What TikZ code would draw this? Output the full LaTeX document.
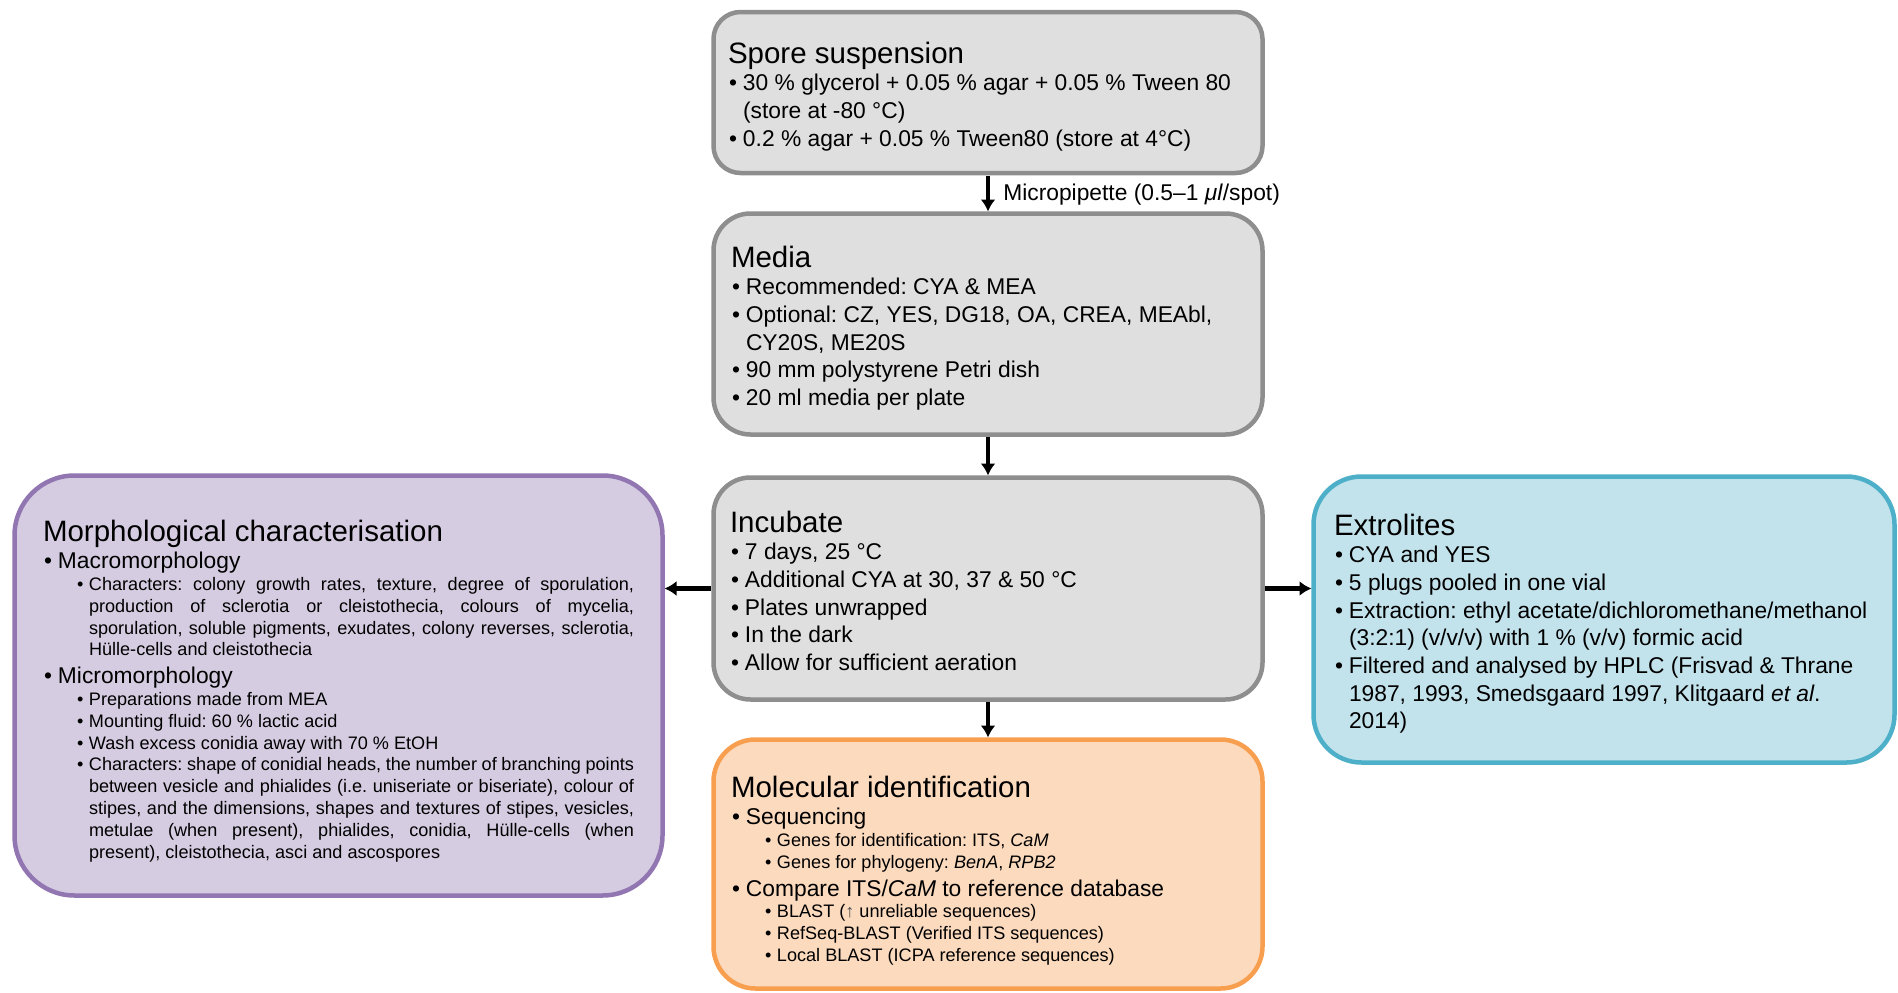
\documentclass[tikz,border=0pt]{standalone}
\usepackage{fontspec}
\setmainfont{Liberation Sans}
\usetikzlibrary{arrows.meta,calc}
\frenchspacing
\definecolor{grayfill}{HTML}{DFDFDF}
\definecolor{grayline}{HTML}{8E8E8E}
\definecolor{purplefill}{HTML}{D5CCE1}
\definecolor{purpleline}{HTML}{9276B2}
\definecolor{bluefill}{HTML}{C3E3EC}
\definecolor{blueline}{HTML}{4DB0C8}
\definecolor{orangefill}{HTML}{FCDABE}
\definecolor{orangeline}{HTML}{F89E4F}
\newcommand{\boxtitle}[1]{{\fontsize{29.5}{34}\selectfont #1\par}}
\newcommand{\itemA}[1]{{\fontsize{22.8}{27.7}\selectfont\leftskip=0pt\hangindent=15pt\hangafter=1\noindent\makebox[15pt][l]{\hspace{1pt}•}#1\par}}
\newcommand{\itemB}[1]{{\fontsize{18.1}{21.8}\selectfont\leftskip=34pt\hangindent=12pt\hangafter=1\noindent\makebox[12pt][l]{•}#1\par}}
\tikzset{
  boxbase/.style={draw, line width=4.5pt, inner sep=0pt, outer sep=0pt},
  graybox/.style={boxbase, fill=grayfill, draw=grayline},
  purplebox/.style={boxbase, fill=purplefill, draw=purpleline},
  bluebox/.style={boxbase, fill=bluefill, draw=blueline},
  orangebox/.style={boxbase, fill=orangefill, draw=orangeline},
  txt/.style={anchor=base west, inner sep=0pt, outer sep=0pt, text=black},
  arr/.style={line width=4.6pt, -{Latex[length=12pt,width=15pt]}, shorten <=2.5pt, shorten >=2pt},
  lbl/.style={anchor=west, inner sep=0pt, xshift=13pt, yshift=-1pt, font=\fontsize{22.8}{26}\selectfont}
}
\begin{document}
\begin{tikzpicture}[x=1pt,y=-1pt]
\useasboundingbox (0,0) rectangle (1898,993);
\fill[white] (0,0) rectangle (1898,993);

% boxes
\node[graybox, rounded corners=27pt, minimum width=549pt, minimum height=161pt] (spore) at (988,92.5) {};
\node[graybox, rounded corners=37pt, minimum width=549pt, minimum height=221pt] (media) at (988,324) {};
\node[graybox, rounded corners=37pt, minimum width=549pt, minimum height=222pt] (incubate) at (988,588.5) {};
\node[orangebox, rounded corners=42pt, minimum width=549pt, minimum height=249pt] (molecular) at (988,864) {};
\node[purplebox, rounded corners=60pt, minimum width=648pt, minimum height=420pt] (morph) at (338.5,685.5) {};
\node[bluebox, rounded corners=48pt, minimum width=581pt, minimum height=286pt] (extro) at (1604,619.5) {};

% texts
\node[txt] (sporetext) at (728,63) {\begin{minipage}[t]{530pt}\raggedright
\boxtitle{Spore suspension}
\itemA{30 \% glycerol + 0.05 \% agar + 0.05 \% Tween 80\newline(store at -80 °C)}
\itemA{0.2 \% agar + 0.05 \% Tween80 (store at 4°C)}
\end{minipage}};

\node[txt] (mediatext) at (731,267) {\begin{minipage}[t]{530pt}\raggedright
\boxtitle{Media}
\itemA{Recommended: CYA \& MEA}
\itemA{Optional: CZ, YES, DG18, OA, CREA, MEAbl,\newline CY20S, ME20S}
\itemA{90 mm polystyrene Petri dish}
\itemA{20 ml media per plate}
\end{minipage}};

\node[txt] (incubatetext) at (730,532) {\begin{minipage}[t]{530pt}\raggedright
\boxtitle{Incubate}
\itemA{7 days, 25 °C}
\itemA{Additional CYA at 30, 37 \& 50 °C}
\itemA{Plates unwrapped}
\itemA{In the dark}
\itemA{Allow for sufficient aeration}
\end{minipage}};

\node[txt] (moleculartext) at (731,797) {\begin{minipage}[t]{530pt}\raggedright
\boxtitle{Molecular identification}
\itemA{Sequencing}
\itemB{Genes for identification: ITS, \textit{CaM}}
\itemB{Genes for phylogeny: \textit{BenA}, \textit{RPB2}}
\itemA{Compare ITS/\textit{CaM} to reference database}
\itemB{BLAST ({\color{black!70}↑} unreliable sequences)}
\itemB{RefSeq-BLAST (Verified ITS sequences)}
\itemB{Local BLAST (ICPA reference sequences)}
\end{minipage}};

\node[txt] (morphtext) at (43,541) {\begin{minipage}[t]{591pt}
\boxtitle{Morphological characterisation}
\itemA{Macromorphology}
\itemB{Characters: colony growth rates, texture, degree of sporulation,\linebreak production of sclerotia or cleistothecia, colours of mycelia,\linebreak sporulation, soluble pigments, exudates, colony reverses, sclerotia,\linebreak Hülle-cells and cleistothecia}
\itemA{Micromorphology}
\itemB{Preparations made from MEA}
\itemB{Mounting fluid: 60 \% lactic acid}
\itemB{Wash excess conidia away with 70 \% EtOH}
\itemB{Characters: shape of conidial heads, the number of branching points\linebreak between vesicle and phialides (i.e. uniseriate or biseriate), colour of\linebreak stipes, and the dimensions, shapes and textures of stipes, vesicles,\linebreak metulae (when present), phialides, conidia, Hülle-cells (when\linebreak present), cleistothecia, asci and ascospores}
\end{minipage}};

\node[txt] (extrotext) at (1334,535) {\begin{minipage}[t]{555pt}\raggedright
\boxtitle{Extrolites}
\itemA{CYA and YES}
\itemA{5 plugs pooled in one vial}
\itemA{Extraction: ethyl acetate/dichloromethane/methanol\newline(3:2:1) (v/v/v) with 1 \% (v/v) formic acid}
\itemA{Filtered and analysed by HPLC (Frisvad \& Thrane\newline 1987, 1993, Smedsgaard 1997, Klitgaard \textit{et al}.\newline 2014)}
\end{minipage}};

% connectors
\draw[arr] (spore.south) -- node[lbl] {Micropipette (0.5–1 \textit{μl}/spot)} (media.north);
\draw[arr] (media.south) -- (incubate.north);
\draw[arr] (incubate.south) -- (molecular.north);
\draw[arr] (incubate.west) -- (incubate.west -| morph.east);
\draw[arr] (incubate.east) -- (incubate.east -| extro.west);
\end{tikzpicture}
\end{document}
